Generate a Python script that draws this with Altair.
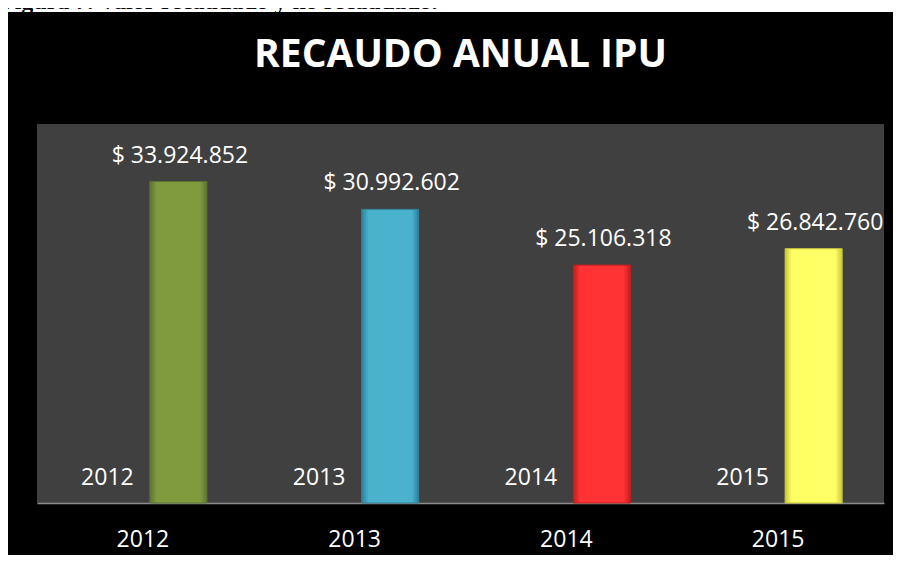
import altair as alt
import pandas as pd

anios = ["2012", "2013", "2014", "2015"]
serie_anio = [2012, 2013, 2014, 2015]
recaudo = [33924852, 30992602, 25106318, 26842760]
colores = ["#7F9B3E", "#4BB2CE", "#FF3333", "#FFFF66"]
bordes = ["#5E7430", "#2F8099", "#C01E1E", "#C9C93C"]

titulo = "RECAUDO ANUAL IPU"
leyenda_figura = "Figura 7. Valor  recaudado y no recaudado."

etiquetas = ["$ " + f"{v:,}".replace(",", ".") for v in recaudo]

df = pd.DataFrame({
    "anio": anios,
    "serie_anio": serie_anio,
    "valor": recaudo,
    "etiqueta": etiquetas,
})

FONT = "Open Sans"

x = alt.X(
    "anio:N",
    sort=anios,
    scale=alt.Scale(paddingInner=0, paddingOuter=0),
    axis=alt.Axis(
        title=None, labelAngle=0, ticks=False, grid=False,
        labelColor="white", labelFont=FONT, labelFontSize=23,
        labelPadding=43, labelBaseline="alphabetic",
        domainColor="#8C8C8C", domainWidth=1.5,
    ),
)
y_scale = alt.Scale(domain=[0, 40000000])

base = alt.Chart(df)
uno = alt.Data(values=[{"k": 1}])

franja = alt.Chart(uno).mark_rect(color="white").encode(
    x=alt.value(-29), x2=alt.value(856), y=alt.value(-116), y2=alt.value(-112)
)
leyenda = alt.Chart(uno).mark_text(
    text=leyenda_figura, font="Liberation Serif", fontWeight="bold", fontSize=24,
    align="left", baseline="alphabetic", color="black",
).encode(x=alt.value(-37), y=alt.value(-115))

encabezado = alt.Chart(uno).mark_text(
    text=titulo, font=FONT, fontWeight="bold", fontSize=39,
    align="center", baseline="alphabetic", color="white",
).encode(x=alt.value(423.5), y=alt.value(-57))

capas_barras = []
for anio, c, b in zip(anios, colores, bordes):
    grad = alt.Gradient(
        gradient="linear", x1=0, x2=1, y1=0, y2=0,
        stops=[
            alt.GradientStop(color=b, offset=0),
            alt.GradientStop(color=c, offset=0.12),
            alt.GradientStop(color=c, offset=0.88),
            alt.GradientStop(color=b, offset=1),
        ],
    )
    capas_barras.append(
        base.transform_filter(alt.datum.anio == anio)
        .mark_bar(width=57, xOffset=35.5, strokeWidth=1, stroke=b, fill=grad)
        .encode(x=x, y=alt.Y("valor:Q", scale=y_scale, axis=None))
    )

valores = base.mark_text(
    xOffset=37, dy=-19, baseline="alphabetic", font=FONT, fontSize=23, color="white"
).encode(x=x, y=alt.Y("valor:Q", scale=y_scale, axis=None), text="etiqueta:N")

anios_txt = base.mark_text(
    xOffset=-35.5, dy=-18, baseline="alphabetic", font=FONT, fontSize=23, color="white"
).encode(x=x, y=alt.Y("serie_anio:Q", scale=y_scale, axis=None), text="anio:N")

chart = alt.layer(franja, leyenda, encabezado, *capas_barras, valores, anios_txt).properties(
    width=847,
    height=379,
    background="black",
    padding={"left": 29, "top": 116, "right": 9, "bottom": 52},
    autosize=alt.AutoSizeParams(type="none"),
).configure_view(fill="#404040", strokeWidth=0)

chart.save("out.html", embed_options={"renderer": "svg", "actions": False})
